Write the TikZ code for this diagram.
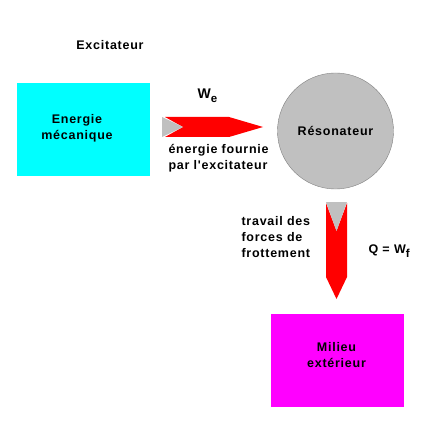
\documentclass[tikz,border=0pt]{standalone}
\usepackage{fontspec}
\setmainfont{Liberation Sans}[Ligatures=TeXOff,LetterSpace=6]
\definecolor{boxcyan}{HTML}{00FFFF}
\definecolor{boxmagenta}{HTML}{FF00FF}
\definecolor{flowred}{HTML}{FF0000}
\definecolor{lightgrey}{HTML}{C0C0C0}
\definecolor{edgegrey}{HTML}{808080}
\newcommand{\sub}[1]{\raisebox{-0.5ex}{\fontsize{11.5}{11.5}\selectfont #1}}

\begin{document}
\begin{tikzpicture}[x=1pt,y=-1pt,font=\bfseries\fontsize{12.5}{16}\selectfont,
  box/.style={minimum width=133pt,minimum height=93pt,inner sep=0pt}]
\useasboundingbox (0,0) rectangle (425,422);

\node at (110,45) (excit) {Excitateur};

\node[box,fill=boxcyan] (meca) at (83,129.5) {};
\node[align=center] (mecatext) at (77,128) {Energie\\mécanique};

\node[circle,fill=lightgrey,draw=edgegrey,minimum size=116pt,inner sep=0pt] (reso) at (335.5,131) {Résonateur};

% energie fournie
\fill[flowred] (165,117) -- (229,117) -- (263,127) -- (229,137) -- (165,137) -- (183,127) -- cycle;
\fill[lightgrey] (162,117) -- (183,127) -- (162,137) -- cycle;
\node (we) at (207.5,96) {\fontsize{14}{16}\selectfont W\sub{e}};
\node[anchor=west,align=left] (fournie) at (165,158.5) {énergie fournie\\par l'excitateur};

% frottements
\fill[flowred] (326,203) -- (336.5,231) -- (347,203) -- (347,277) -- (336.5,299) -- (326,277) -- cycle;
\fill[lightgrey] (326,202) -- (347,202) -- (336.5,231) -- cycle;
\node[anchor=west,align=left] (travail) at (238,237.5) {travail des\\forces de\\frottement};
\node[anchor=west] (wf) at (365,251) {Q = W\sub{f}};

\node[box,fill=boxmagenta] (milieu) at (337.5,360.5) {};
\node[align=center] (milieutext) at (336.5,355) {Milieu\\extérieur};
\end{tikzpicture}
\end{document}
